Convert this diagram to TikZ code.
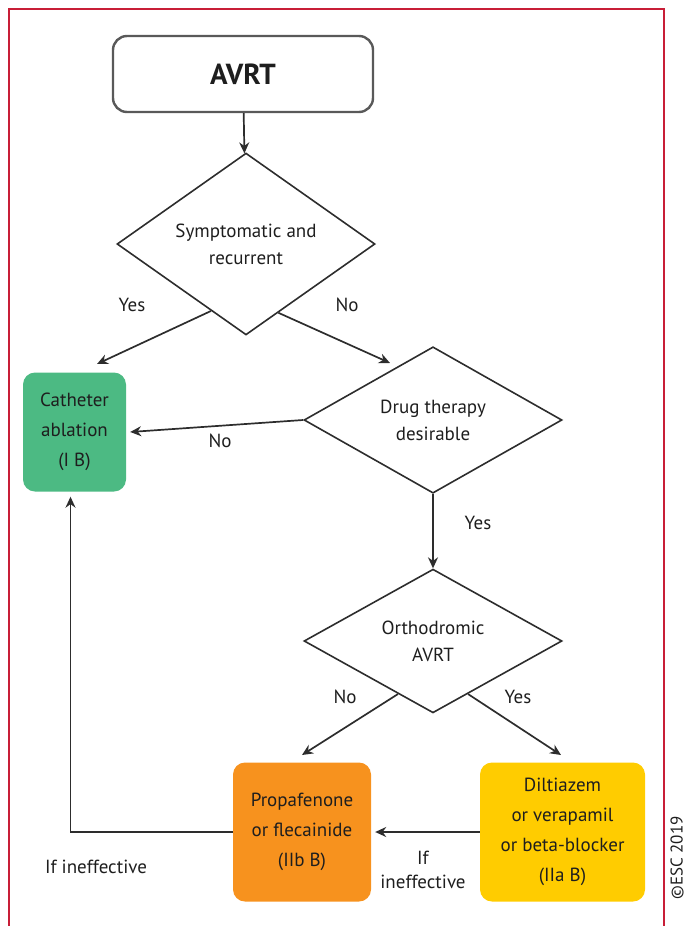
\documentclass[tikz,border=0pt]{standalone}
\usepackage{fontspec}
\setmainfont{PT Sans}
\usetikzlibrary{shapes.geometric,arrows.meta,calc}
\definecolor{framered}{RGB}{200,30,55}
\definecolor{cathgreen}{RGB}{76,186,131}
\definecolor{proporange}{RGB}{247,146,30}
\definecolor{dilyellow}{RGB}{255,204,0}
\definecolor{linegray}{RGB}{45,45,45}
\definecolor{textdark}{RGB}{30,30,30}
\tikzset{
  decision/.style={diamond, draw=linegray, line width=1.6pt, minimum width=258pt,
    minimum height=142pt, inner sep=0pt, align=center,
    font=\fontsize{19}{27}\selectfont, text=textdark},
  therapy/.style={rounded corners=12pt, minimum height=139pt, inner sep=2pt,
    align=center, font=\fontsize{19}{30}\selectfont, text=textdark},
  flow/.style={-{Stealth[length=11pt,width=10pt]}, line width=1.7pt, draw=linegray},
  answer/.style={font=\fontsize{19}{24}\selectfont, text=textdark, align=center},
}
\begin{document}
\begin{tikzpicture}[x=1pt, y=-1pt]
  \useasboundingbox (0,0) rectangle (688,926);
  % Outer frame (bottom edge lies below the page)
  \draw[framered, line width=2.5pt] (9,945) -- (9,9) -- (664,9) -- (664,945);
  % Start box
  \node[draw=gray!70!black, line width=2.4pt, rounded corners=14pt, minimum width=260pt,
    minimum height=76pt, font=\fontsize{29}{32}\selectfont\bfseries, text=textdark]
    (avrt) at (243,74) {AVRT};
  % Decisions
  \node[decision] (symp) at (246,244) {Symptomatic and\\recurrent};
  \node[decision] (drug) at (433,420) {Drug therapy\\desirable};
  \node[decision] (ortho) at (433,641) {Orthodromic\\AVRT};
  % Therapies
  \node[therapy, fill=cathgreen, minimum width=103pt, minimum height=119pt] (cath) at (74.5,432) {Catheter\\ablation\\(I B)};
  \node[therapy, fill=proporange, minimum width=138pt] (prop) at (302,832) {Propafenone\\or flecainide\\(IIb B)};
  \node[therapy, fill=dilyellow, minimum width=165pt] (dil) at (562.5,832) {Diltiazem\\or verapamil\\or beta-blocker\\(IIa B)};
  % Free arrow ends
  \coordinate (sympyes) at (97,364);
  \coordinate (sympno) at (390,363);
  \coordinate (orthono) at (302,755);
  \coordinate (orthoyes) at (561,755);
  % Connectors
  \draw[flow] (avrt) -- (symp);
  \draw[flow] ($(symp.west)!0.73!(symp.south)$) -- (sympyes);
  \draw[flow] ($(symp.south)!0.25!(symp.east)$) -- (sympno);
  \draw[flow] (drug.west) -- ($(cath.east)+(4,0)$);
  \draw[flow] (drug) -- (ortho);
  \draw[flow] ($(ortho.west)!0.73!(ortho.south)$) -- (orthono);
  \draw[flow] ($(ortho.south)!0.27!(ortho.east)$) -- (orthoyes);
  \draw[flow] (dil.west) -- ($(prop.east)+(4,0)$);
  \draw[flow] (prop.west) -| ($(cath.south)+(-4,5)$);
  % Labels
  \node[answer] (l1) at (132,305) {Yes};
  \node[answer] (l2) at (347,305) {No};
  \node[answer] (l3) at (220,441) {No};
  \node[answer] (l4) at (478,523) {Yes};
  \node[answer] (l5) at (345,697) {No};
  \node[answer] (l6) at (518,697) {Yes};
  \node[answer] (l7) at (96,867) {If ineffective};
  \node[answer] (l8) at (423,870) {If\\ineffective};
  \node[rotate=90, font=\fontsize{17}{20}\selectfont, text=textdark] (esc) at (677,858) {©ESC 2019};
\end{tikzpicture}
\end{document}
